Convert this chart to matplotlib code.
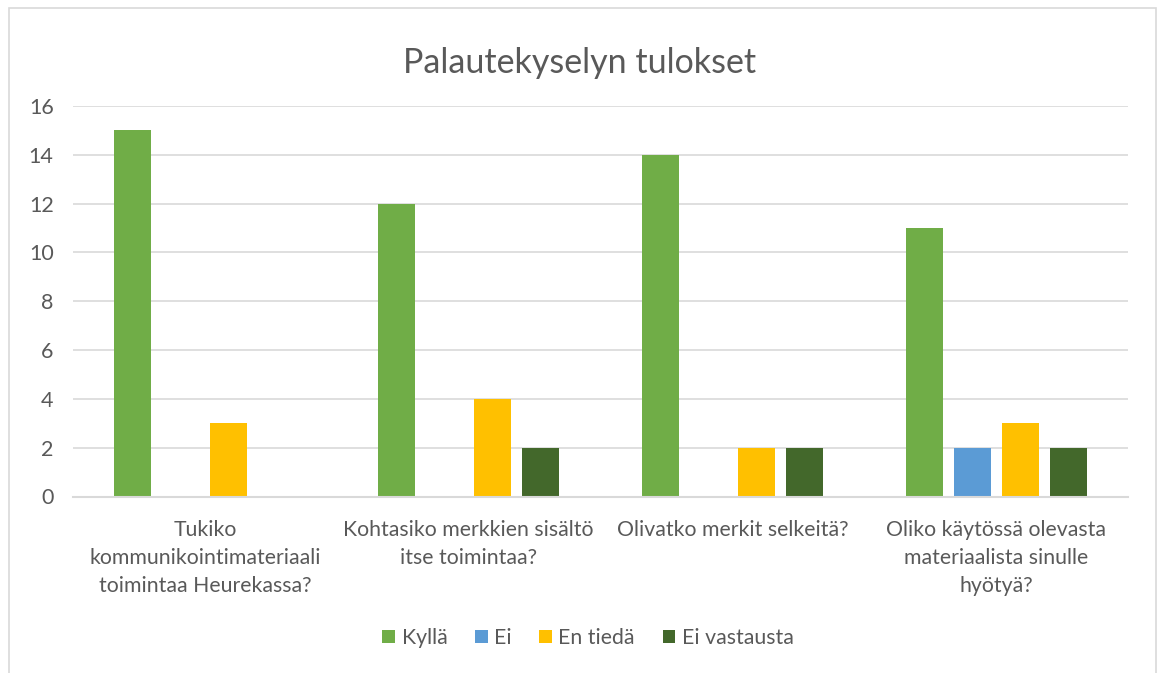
import matplotlib
matplotlib.use("Agg")
import matplotlib.pyplot as plt
from matplotlib.patches import Rectangle, Patch
import numpy as np

categories = ["Tukiko\nkommunikointimateriaali\ntoimintaa Heurekassa?",
              "Kohtasiko merkkien sisältö\nitse toimintaa?",
              "Olivatko merkit selkeitä?",
              "Oliko käytössä olevasta\nmateriaalista sinulle\nhyötyä?"]
series_names = ["Kyllä", "Ei", "En tiedä", "Ei vastausta"]
kylla = [15, 12, 14, 11]
ei = [0, 0, 0, 2]
en_tieda = [3, 4, 2, 3]
ei_vastausta = [0, 2, 2, 2]
yticks = [0, 2, 4, 6, 8, 10, 12, 14, 16]

colors = ["#70AD47", "#5B9BD5", "#FFC000", "#43682B"]
txt = "#595959"
plt.rcParams['font.family'] = ['Lato', 'DejaVu Sans']

fig = plt.figure(figsize=(11.57, 6.73), dpi=100)
W, H = 1157, 673
ax = fig.add_axes([73 / W, 1 - 496.5 / H, (1128 - 73) / W, (496.5 - 106) / H])

x = np.arange(len(categories))
offsets = [-0.273, -0.091, 0.091, 0.273]
bw = 0.140
for vals, off, c, name in zip([kylla, ei, en_tieda, ei_vastausta], offsets, colors, series_names):
    ax.bar(x + off, vals, width=bw, color=c, label=name, zorder=3)

ax.set_xlim(-0.5, len(categories) - 0.5)
ax.set_ylim(0, 16)
ax.set_yticks(yticks)
ax.set_yticklabels([str(v) for v in yticks], fontsize=15.5, color=txt)
ax.yaxis.grid(True, color="#D9D9D9", linewidth=1.2, zorder=0)
ax.set_axisbelow(True)
ax.set_xticks(x)
ax.set_xticklabels(categories, fontsize=15.3, color=txt, linespacing=1.5)
ax.tick_params(axis='x', length=0, pad=17)
ax.tick_params(axis='y', length=0, pad=14)
for s in ["top", "right", "left"]:
    ax.spines[s].set_visible(False)
ax.spines["bottom"].set_color("#D9D9D9")
ax.spines["bottom"].set_linewidth(1.5)
ax.spines["bottom"].set_zorder(4)

fig.text(580 / W, 1 - 63 / H, "Palautekyselyn tulokset", ha="center", va="center",
         fontsize=24.5, color=txt)

handles = [Patch(facecolor=c, edgecolor='none') for c in colors]
fig.legend(handles, series_names, loc="center", bbox_to_anchor=(588 / W, 1 - 638 / H),
           ncol=4, frameon=False, fontsize=15.3, labelcolor=txt, handlelength=0.6,
           handleheight=0.6, handletextpad=0.3, columnspacing=1.3)

fig.patches.append(Rectangle((9 / W, -0.05), (1156 - 9) / W, 1 - 8 / H + 0.05,
                             transform=fig.transFigure, fill=False,
                             edgecolor="#D9D9D9", linewidth=1.2))

fig.savefig("out.png", dpi=100, facecolor="white")
